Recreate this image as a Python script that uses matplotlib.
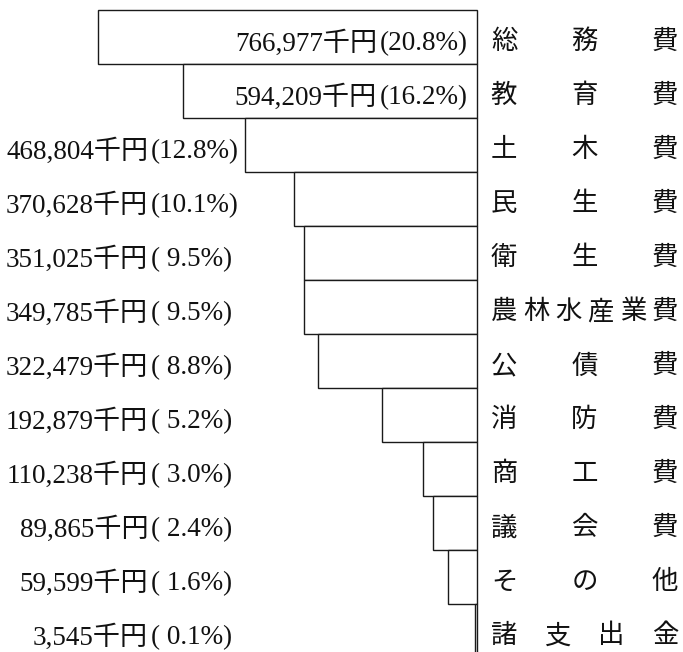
import matplotlib.pyplot as plt
import numpy as np

# 歳出 (千円) by category, top to bottom
categories = ['総務費', '教育費', '土木費', '民生費', '衛生費', '農林水産業費',
              '公債費', '消防費', '商工費', '議会費', 'その他', '諸支出金']
values = [766977, 594209, 468804, 370628, 351025, 349785,
          322479, 192879, 110238, 89865, 59599, 3545]
percents = [20.8, 16.2, 12.8, 10.1, 9.5, 9.5, 8.8, 5.2, 3.0, 2.4, 1.6, 0.1]

NUM_FONT = ['Liberation Serif', 'Noto Sans CJK JP']
CAT_FONT = ['Noto Sans CJK JP']
LABEL_X = -660000      # where the "(xx.x%)" part starts for outside labels
INSIDE_MIN = 500000    # bars wider than this carry their label inside
FS = 19.5

fig = plt.figure(figsize=(6.83, 6.52), dpi=100)
ax = fig.add_axes([0, 0, 1, 1])

y = np.arange(len(values))
vals = np.array(values)
ax.barh(y, vals, left=-vals, height=1.0, color='white',
        edgecolor='#1a1a1a', linewidth=1.0)

for i, (v, p) in enumerate(zip(values, percents)):
    num = f'{v:,}千円'
    pct = f'({p:4.1f}%)'
    yt = i + 0.12
    if v > INSIDE_MIN:
        ax.annotate(pct, xy=(0, yt), xytext=(-7, 0),
                    textcoords='offset points', ha='right', va='center',
                    fontsize=FS, family=NUM_FONT, color='#111111')
        ax.annotate(num, xy=(0, yt), xytext=(-72, 0),
                    textcoords='offset points', ha='right', va='center',
                    fontsize=FS, family=NUM_FONT, color='#111111')
    else:
        ax.annotate(num, xy=(LABEL_X, yt), xytext=(-2, 0),
                    textcoords='offset points', ha='right', va='center',
                    fontsize=FS, family=NUM_FONT, color='#111111')
        ax.text(LABEL_X, yt, pct, ha='left', va='center',
                fontsize=FS, family=NUM_FONT, color='#111111')

# category names spread evenly across the right column
x0, x1 = 54700, 380600
for i, name in enumerate(categories):
    xs = np.linspace(x0, x1, len(name))
    for xc, ch in zip(xs, name):
        ax.text(xc, i + 0.09, ch, ha='center', va='center',
                fontsize=19, family=CAT_FONT, color='#111111')

ax.set_xlim(-965600, 417000)
ax.set_ylim(11.389, -0.685)
ax.axis('off')

fig.savefig('out.png', dpi=100)
